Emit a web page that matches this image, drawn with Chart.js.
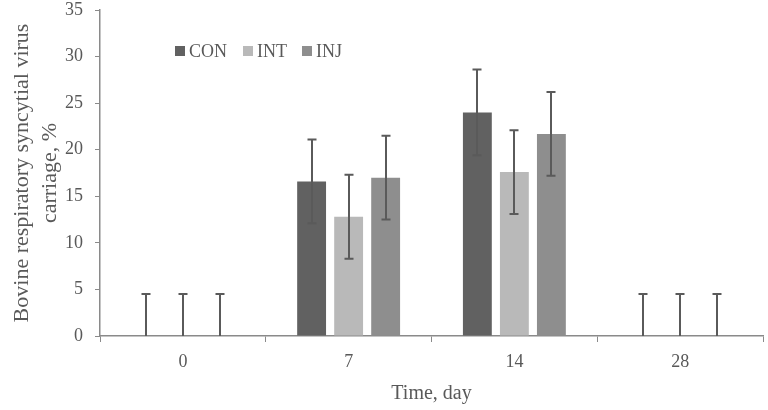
<!DOCTYPE html>
<html>
<head>
<meta charset="utf-8">
<script src="https://cdn.jsdelivr.net/npm/chart.js@4.4.1/dist/chart.umd.min.js"></script>
<style>
html,body{margin:0;padding:0;background:#fff;}
#wrap{width:768px;height:410px;position:relative;}
</style>
</head>
<body>
<div id="wrap"><canvas id="c"></canvas></div>
<script>
const categories = ["0", "7", "14", "28"];
const seriesNames = ["CON", "INT", "INJ"];
const conValues = [0, 16.6, 24.0, 0];
const intValues = [0, 12.8, 17.6, 0];
const injValues = [0, 17.0, 21.7, 0];
const conErrors = [4.5, 4.5, 4.6, 4.5];
const intErrors = [4.5, 4.5, 4.5, 4.5];
const injErrors = [4.5, 4.5, 4.5, 4.5];
const yTicks = [0, 5, 10, 15, 20, 25, 30, 35];

const colors = ["#616161", "#b9b9b9", "#8e8e8e"];
const textColor = "#595959";
const axisColor = "#8a8a8a";
const fontFamily = "'Liberation Serif', 'Times New Roman', serif";

const errorPlugin = {
  id: "errorBars",
  afterDatasetsDraw(chart) {
    const ctx = chart.ctx;
    const y = chart.scales.y;
    ctx.save();
    ctx.strokeStyle = "#5a5a5a";
    ctx.lineWidth = 2;
    chart.data.datasets.forEach((ds, di) => {
      const meta = chart.getDatasetMeta(di);
      meta.data.forEach((bar, i) => {
        const v = ds.data[i];
        const e = ds.errors[i];
        const x = Math.round(bar.x);
        const top = y.getPixelForValue(v + e);
        const bot = y.getPixelForValue(Math.max(0, v - e));
        ctx.beginPath();
        ctx.moveTo(x, top);
        ctx.lineTo(x, bot);
        ctx.moveTo(x - 4.5, top);
        ctx.lineTo(x + 4.5, top);
        if (v - e > 0) {
          ctx.moveTo(x - 4.5, bot);
          ctx.lineTo(x + 4.5, bot);
        }
        ctx.stroke();
      });
    });
    ctx.restore();
  }
};

const legendPlugin = {
  id: "customLegend",
  afterDraw(chart) {
    const ctx = chart.ctx;
    ctx.save();
    ctx.font = "18px " + fontFamily;
    ctx.textBaseline = "middle";
    const positions = [175, 243, 302];
    chart.data.datasets.forEach((ds, i) => {
      const x = positions[i];
      ctx.fillStyle = ds.backgroundColor;
      ctx.fillRect(x, 46, 10, 10);
      ctx.fillStyle = textColor;
      ctx.fillText(ds.label, x + 14, 52);
    });
    ctx.restore();
  }
};

new Chart(document.getElementById("c"), {
  type: "bar",
  data: {
    labels: categories,
    datasets: [
      { label: seriesNames[0], data: conValues, errors: conErrors, backgroundColor: colors[0] },
      { label: seriesNames[1], data: intValues, errors: intErrors, backgroundColor: colors[1] },
      { label: seriesNames[2], data: injValues, errors: injErrors, backgroundColor: colors[2] }
    ]
  },
  options: {
    responsive: true,
    maintainAspectRatio: false,
    animation: false,
    devicePixelRatio: 1,
    layout: { padding: { top: 10, right: 5, left: 0, bottom: 0 } },
    datasets: { bar: { categoryPercentage: 0.67, barPercentage: 0.78 } },
    plugins: { legend: { display: false }, tooltip: { enabled: false } },
    scales: {
      x: {
        grid: { display: true, drawOnChartArea: false, drawTicks: true, tickLength: 6, color: axisColor, offset: true },
        border: { display: true, color: axisColor, width: 1.5 },
        ticks: { color: textColor, font: { family: fontFamily, size: 18 }, padding: 9 },
        title: { display: true, text: "Time, day", color: textColor, font: { family: fontFamily, size: 20 }, padding: { top: 2 } },
        afterFit(s) { s.height = 74; s.paddingLeft = 0; s.paddingRight = 0; }
      },
      y: {
        min: 0, max: 35,
        afterBuildTicks(s) { s.ticks = yTicks.map(v => ({ value: v })); },
        grid: { display: true, drawOnChartArea: false, drawTicks: true, tickLength: 5, color: axisColor },
        border: { display: true, color: axisColor, width: 1.5 },
        ticks: { color: textColor, font: { family: fontFamily, size: 18 }, padding: 12 },
        title: { display: true, text: ["Bovine respiratory syncytial virus", "carriage, %"], color: textColor, font: { family: fontFamily, size: 22, lineHeight: 1.27 }, padding: { top: 8, bottom: 2 } },
        afterFit(s) { s.width = 100; s.paddingTop = 0; s.paddingBottom = 0; }
      }
    }
  },
  plugins: [errorPlugin, legendPlugin]
});
</script>
</body>
</html>
